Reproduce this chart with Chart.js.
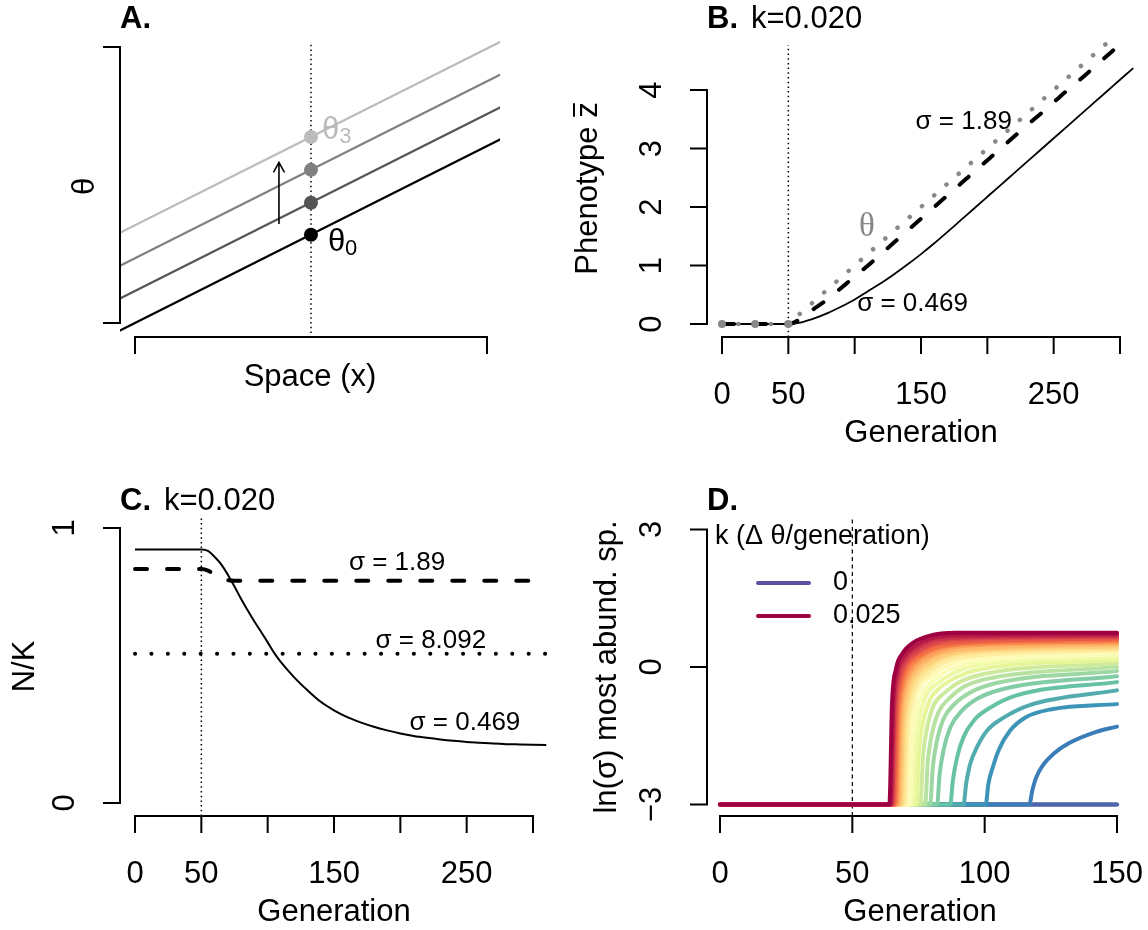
<!DOCTYPE html>
<html>
<head>
<meta charset="utf-8">
<script src="https://cdn.jsdelivr.net/npm/chart.js@4.4.1/dist/chart.umd.min.js"></script>
<style>
  html, body { margin: 0; padding: 0; background: #fff; }
  #wrap { position: relative; width: 1148px; height: 930px; overflow: hidden; }
  #wrap canvas { position: absolute; left: 0; top: 0; }
</style>
</head>
<body>
<div id="wrap">
  <canvas id="panelA" width="1148" height="930"></canvas>
  <canvas id="panelB" width="1148" height="930"></canvas>
  <canvas id="panelC" width="1148" height="930"></canvas>
  <canvas id="panelD" width="1148" height="930"></canvas>
</div>
<script>
// ---- panel A: optimum theta across space, shifting upward ----
const spaceX = [-1, 11];
const thetaLineStart = [-0.64, 0.52, 1.71, 2.90];   // value at x = -1
const thetaLineEnd = [7.05, 8.21, 9.40, 10.59];     // value at x = 11
const thetaDotX = 5;
const thetaDotY = [3.2, 4.36, 5.55, 6.74];
const thetaColors = ['#000000', '#555555', '#808080', '#bbbbbb'];

// ---- panel B: mean phenotype over generations ----
const genB = [0, 10, 20, 30, 40, 50, 60, 70, 80, 90, 100, 110, 120, 130, 140, 150, 160,
  170, 180, 190, 200, 210, 220, 230, 240, 250, 260, 270, 280, 290, 300, 310];
const thetaB = [0, 0, 0, 0, 0, 0, 0.2, 0.4, 0.6, 0.8, 1.0, 1.2, 1.4, 1.6, 1.8, 2.0, 2.2,
  2.4, 2.6, 2.8, 3.0, 3.2, 3.4, 3.6, 3.8, 4.0, 4.2, 4.4, 4.6, 4.8, 5.0, 5.2];
const zWideB = [0, 0, 0, 0, 0, 0, 0.1, 0.27, 0.43, 0.62, 0.81, 1.0, 1.2, 1.4, 1.6, 1.8, 2.0,
  2.2, 2.4, 2.6, 2.8, 3.0, 3.2, 3.4, 3.59, 3.79, 3.99, 4.18, 4.38, 4.58, 4.78, 4.97];
const zNarrowB = [0, 0, 0, 0, 0, 0, 0.03, 0.1, 0.19, 0.3, 0.42, 0.56, 0.70, 0.855, 1.02, 1.195, 1.38,
  1.575, 1.775, 1.975, 2.175, 2.375, 2.575, 2.775, 2.975, 3.175, 3.375, 3.575, 3.775, 3.975, 4.175, 4.375];
const thetaMarkGen = [0, 25, 50];
const thetaMarkVal = [0, 0, 0];

// ---- panel C: population size N/K ----
const genC = [0, 50, 55, 60, 65, 70, 75, 80, 85, 90, 95, 100, 105, 110, 120, 130, 140, 150,
  160, 170, 180, 190, 200, 210, 220, 230, 240, 250, 260, 270, 280, 290, 300, 310];
const nNarrowC = [0.922, 0.922, 0.917, 0.895, 0.868, 0.83, 0.787, 0.742, 0.70, 0.66, 0.623, 0.584,
  0.545, 0.512, 0.457, 0.41, 0.368, 0.337, 0.312, 0.293, 0.277, 0.264, 0.253, 0.244, 0.237, 0.231,
  0.226, 0.222, 0.219, 0.216, 0.214, 0.213, 0.212, 0.211];
const genWideC = [0, 50, 55, 60, 65, 70, 75, 310];
const nWideC = [0.851, 0.851, 0.845, 0.83, 0.815, 0.81, 0.808, 0.808];
const genFlatC = [0, 310];
const nFlatC = [0.543, 0.543];

// ---- panel D: ln(sigma) of most abundant species, one line per k (0 .. 0.025) ----
const legendK = ['0', '0.025'];
const dOnset = [null, null, 116.9, 100.4, 92.0, 87.0, 82.0, 79.4, 77.5, 75.7, 74.2, 72.9, 71.7,
  70.6, 69.7, 68.9, 68.2, 67.5, 66.9, 66.4, 65.9, 65.5, 65.1, 64.8, 64.4, 64.0];
const dOffset = [1, 2.5, 5, 9, 15, 25];   // generations after onset
const dLevel = [                          // values at those offsets, then at generation 150
  null,
  null,
  [-2.72, -2.42, -2.15, -1.90, -1.66, -1.42, -1.30],
  [-2.55, -2.22, -1.80, -1.40, -1.10, -0.92, -0.81],
  [-2.55, -2.12, -1.76, -1.38, -1.11, -0.83, -0.51],
  [-2.47, -1.99, -1.53, -1.16, -0.89, -0.62, -0.33],
  [-2.33, -1.80, -1.32, -0.98, -0.70, -0.48, -0.20],
  [-2.19, -1.63, -1.14, -0.82, -0.56, -0.35, -0.09],
  [-2.07, -1.47, -0.99, -0.69, -0.42, -0.24, 0.00],
  [-1.95, -1.34, -0.84, -0.57, -0.32, -0.14, 0.08],
  [-1.83, -1.20, -0.73, -0.45, -0.23, -0.04, 0.15],
  [-1.75, -1.11, -0.62, -0.37, -0.14, 0.05, 0.21],
  [-1.66, -1.01, -0.55, -0.29, -0.06, 0.11, 0.27],
  [-1.57, -0.91, -0.44, -0.21, 0.02, 0.19, 0.32],
  [-1.48, -0.81, -0.37, -0.14, 0.10, 0.24, 0.37],
  [-1.40, -0.72, -0.31, -0.07, 0.17, 0.31, 0.41],
  [-1.34, -0.65, -0.24, 0.00, 0.21, 0.35, 0.45],
  [-1.26, -0.56, -0.17, 0.07, 0.28, 0.39, 0.49],
  [-1.20, -0.49, -0.11, 0.14, 0.32, 0.46, 0.53],
  [-1.15, -0.44, -0.05, 0.20, 0.38, 0.49, 0.56],
  [-1.10, -0.38, 0.02, 0.23, 0.41, 0.52, 0.59],
  [-1.05, -0.32, 0.08, 0.29, 0.48, 0.55, 0.62],
  [-0.99, -0.26, 0.10, 0.32, 0.50, 0.61, 0.65],
  [-0.94, -0.20, 0.16, 0.39, 0.57, 0.64, 0.68],
  [-0.86, -0.12, 0.22, 0.45, 0.62, 0.69, 0.71],
  [-0.79, -0.04, 0.30, 0.53, 0.68, 0.745, 0.75]
];
const spectralRev = ['#5E4FA2', '#3288BD', '#66C2A5', '#ABDDA4', '#E6F598', '#FFFFBF',
  '#FEE08B', '#FDAE61', '#F46D43', '#D53E4F', '#9E0142'];

const SANS = '"Liberation Sans", Arial, Helvetica, sans-serif';
const SERIF = '"Liberation Serif", "DejaVu Serif", serif';
const TICK = 17;
const W = 1148, H = 930;

// draw a row of text pieces (for greek letters, subscripts, bold labels)
function txt(ctx, parts, x, y, opts) {
  opts = opts || {};
  const align = opts.align || 'center';
  ctx.save();
  ctx.translate(x, y);
  if (opts.rot) ctx.rotate(opts.rot);
  ctx.textBaseline = 'middle';
  ctx.textAlign = 'left';
  const ps = parts.map(p => (typeof p === 'string' ? { t: p } : Object.assign({}, p)));
  let w = 0;
  ps.forEach(p => {
    p.f = (p.bold ? 'bold ' : '') + (p.size || opts.size || 31) + 'px ' + (p.family || SANS);
    ctx.font = p.f;
    p.w = ctx.measureText(p.t).width;
    w += p.w;
  });
  let cx = align === 'center' ? -w / 2 : (align === 'right' ? -w : 0);
  ps.forEach(p => {
    ctx.font = p.f;
    ctx.fillStyle = p.color || opts.color || '#000';
    ctx.fillText(p.t, cx, p.dy || 0);
    p.x0 = cx;
    cx += p.w;
  });
  ctx.restore();
  return ps;
}

function hexRgb(h) {
  return [parseInt(h.slice(1, 3), 16), parseInt(h.slice(3, 5), 16), parseInt(h.slice(5, 7), 16)];
}
function ramp(stops, t) {
  const n = stops.length - 1;
  const s = t * n;
  const j = Math.min(Math.floor(s), n - 1);
  const f = s - j;
  const a = hexRgb(stops[j]), b = hexRgb(stops[j + 1]);
  const c = a.map((v, i) => Math.round(v + (b[i] - v) * f));
  return 'rgb(' + c.join(',') + ')';
}

// R-style axes, labels and notes
function rPanel(cfg) {
  return {
    id: 'rPanel',
    afterDraw(chart) {
      const ctx = chart.ctx, a = chart.chartArea;
      const sx = chart.scales.x, sy = chart.scales.y;
      ctx.save();
      ctx.strokeStyle = '#000';
      ctx.lineWidth = 2;
      ctx.setLineDash([]);
      ctx.beginPath();
      const xt = cfg.xTicks, yt = cfg.yTicks;
      ctx.moveTo(sx.getPixelForValue(xt[0]) - 1, a.bottom);
      ctx.lineTo(sx.getPixelForValue(xt[xt.length - 1]) + 1, a.bottom);
      xt.forEach(v => {
        const p = sx.getPixelForValue(v);
        ctx.moveTo(p, a.bottom); ctx.lineTo(p, a.bottom + TICK);
      });
      ctx.moveTo(a.left, sy.getPixelForValue(yt[0]) + 1);
      ctx.lineTo(a.left, sy.getPixelForValue(yt[yt.length - 1]) - 1);
      yt.forEach(v => {
        const p = sy.getPixelForValue(v);
        ctx.moveTo(a.left, p); ctx.lineTo(a.left - TICK, p);
      });
      ctx.stroke();
      ctx.restore();

      if (cfg.xText) xt.forEach((v, i) => {
        if (cfg.xText[i]) txt(ctx, [cfg.xText[i]], sx.getPixelForValue(v), a.bottom + 58.5);
      });
      if (cfg.yText) yt.forEach((v, i) => {
        if (cfg.yText[i]) txt(ctx, [cfg.yText[i]], a.left - 55, sy.getPixelForValue(v), { rot: -Math.PI / 2 });
      });
      const cxp = (a.left + a.right) / 2, cyp = (a.top + a.bottom) / 2;
      if (cfg.xTitle) txt(ctx, [cfg.xTitle], cxp, a.bottom + (cfg.xTitleGap || 96));
      if (cfg.yTitle) txt(ctx, cfg.yTitle, a.left - cfg.yTitleGap, cyp, { rot: -Math.PI / 2 });
      if (cfg.title) {
        txt(ctx, [{ t: cfg.title, bold: true }], a.left, cfg.titleY, { align: 'left' });
        if (cfg.subtitle) txt(ctx, [cfg.subtitle], a.left + 44, cfg.titleY, { align: 'left' });
      }
      (cfg.notes || []).forEach(n => {
        txt(ctx, n.parts, sx.getPixelForValue(n.x), sy.getPixelForValue(n.y), { align: n.align || 'center', size: n.size });
      });
      if (cfg.extra) cfg.extra(chart);
    }
  };
}

function makePanel(id, area, xr, yr, datasets, cfg) {
  return new Chart(document.getElementById(id), {
    type: 'scatter',
    data: { datasets: datasets },
    options: {
      responsive: false,
      animation: false,
      events: [],
      devicePixelRatio: 1,
      layout: { padding: { left: area.l, top: area.t, right: W - area.r, bottom: H - area.b } },
      scales: {
        x: { type: 'linear', min: xr[0], max: xr[1], display: false },
        y: { type: 'linear', min: yr[0], max: yr[1], display: false }
      },
      plugins: { legend: { display: false }, tooltip: { enabled: false } },
      elements: { point: { radius: 0 }, line: { borderJoinStyle: 'round' } }
    },
    plugins: [rPanel(cfg)]
  });
}

function line(pts, color, width, dash, extra) {
  return Object.assign({
    data: pts, showLine: true, borderColor: color, borderWidth: width,
    borderDash: dash || [], pointRadius: 0, clip: 0, fill: false
  }, extra || {});
}
const zip = (xs, ys) => xs.map((x, i) => ({ x: x, y: ys[i] }));

// ---------- A ----------
const dsA = [];
dsA.push({
  data: thetaDotY.map(v => ({ x: thetaDotX, y: v })), showLine: false,
  pointRadius: 7, pointBackgroundColor: thetaColors, pointBorderWidth: 0, clip: false
});
dsA.push(line([{ x: thetaDotX, y: -0.36 }, { x: thetaDotX, y: 10.1 }], '#000', 1.5, [1.5, 3.2]));
for (let i = thetaColors.length - 1; i >= 0; i--) {
  dsA.push(line([{ x: spaceX[0], y: thetaLineStart[i] }, { x: spaceX[1], y: thetaLineEnd[i] }],
    thetaColors[i], 2.2));
}
makePanel('panelA', { l: 120, r: 500, t: 36, b: 337 }, [-0.426, 10.37], [-0.507, 10.4], dsA, {
  xTicks: [0, 10], yTicks: [0, 10],
  xTitle: 'Space (x)', xTitleGap: 40,
  yTitle: ['θ'], yTitleGap: 35,
  title: 'A.', titleY: 19,
  extra(chart) {
    const ctx = chart.ctx, sx = chart.scales.x, sy = chart.scales.y;
    const ax = sx.getPixelForValue(4.09), y0 = sy.getPixelForValue(3.59), y1 = sy.getPixelForValue(5.82);
    ctx.save();
    ctx.strokeStyle = '#000'; ctx.lineWidth = 1.6;
    ctx.beginPath();
    ctx.moveTo(ax, y0); ctx.lineTo(ax, y1);
    ctx.moveTo(ax - 5.5, y1 + 10); ctx.lineTo(ax, y1); ctx.lineTo(ax + 5.5, y1 + 10);
    ctx.stroke();
    ctx.restore();
    txt(ctx, [{ t: 'θ', color: '#bbbbbb' }, { t: '3', size: 22, dy: 7, color: '#bbbbbb' }],
      sx.getPixelForValue(5.31), sy.getPixelForValue(6.99), { align: 'left' });
    txt(ctx, [{ t: 'θ' }, { t: '0', size: 22, dy: 7 }],
      sx.getPixelForValue(5.48), sy.getPixelForValue(2.93), { align: 'left' });
  }
});

// ---------- B ----------
const dsB = [
  { data: zip(thetaMarkGen, thetaMarkVal), showLine: false, pointRadius: 4,
    pointBackgroundColor: '#888888', pointBorderWidth: 0, clip: false },
  line(zip(genB, thetaB), '#888888', 4.5, [0.1, 16.2], { borderCapStyle: 'round' }),
  line(zip(genB, zWideB), '#000', 4, [12, 20], { borderCapStyle: 'round', cubicInterpolationMode: 'monotone' }),
  line(zip(genB, zNarrowB), '#000', 1.8, [], { cubicInterpolationMode: 'monotone' }),
  line([{ x: 50, y: -0.222 }, { x: 50, y: 4.77 }], '#000', 1.5, [1.5, 3.2])
];
makePanel('panelB', { l: 707, r: 1135, t: 40, b: 337 }, [-11.31, 311.3], [-0.222, 4.855], dsB, {
  xTicks: [0, 50, 100, 150, 200, 250, 300],
  xText: ['0', '50', '', '150', '', '250', ''],
  yTicks: [0, 1, 2, 3, 4], yText: ['0', '1', '2', '3', '4'],
  xTitle: 'Generation',
  title: 'B.', subtitle: 'k=0.020', titleY: 19,
  notes: [
    { x: 182.2, y: 3.45, parts: ['σ = 1.89'], size: 26 },
    { x: 109.3, y: 1.66, parts: [{ t: 'θ', color: '#888888', family: SERIF, size: 33 }] },
    { x: 143.6, y: 0.34, parts: ['σ = 0.469'], size: 26 }
  ],
  extra(chart) {
    const ctx = chart.ctx, a = chart.chartArea;
    const cy = (a.top + a.bottom) / 2, cx = a.left - 119;
    const ps = txt(ctx, ['Phenotype ', 'z'], cx, cy, { rot: -Math.PI / 2 });
    const z = ps[1];
    ctx.save();
    ctx.translate(cx, cy);
    ctx.rotate(-Math.PI / 2);
    ctx.strokeStyle = '#000'; ctx.lineWidth = 2;
    ctx.beginPath();
    ctx.moveTo(z.x0 + 1, -14); ctx.lineTo(z.x0 + z.w - 1, -14);
    ctx.stroke();
    ctx.restore();
  }
});

// ---------- C ----------
const dsC = [
  line(zip(genC, nNarrowC), '#000', 2, [], { cubicInterpolationMode: 'monotone' }),
  line(zip(genWideC, nWideC), '#000', 4, [12, 20], { borderCapStyle: 'round', cubicInterpolationMode: 'monotone' }),
  line(zip(genFlatC, nFlatC), '#000', 4, [0.1, 16.3], { borderCapStyle: 'round' }),
  line([{ x: 50, y: -0.0473 }, { x: 50, y: 1.04 }], '#000', 1.5, [1.5, 3.2])
];
makePanel('panelC', { l: 120, r: 548, t: 517, b: 816 }, [-11.31, 311.3], [-0.0473, 1.04], dsC, {
  xTicks: [0, 50, 100, 150, 200, 250, 300],
  xText: ['0', '50', '', '150', '', '250', ''],
  yTicks: [0, 1], yText: ['0', '1'],
  xTitle: 'Generation',
  yTitle: ['N/K'], yTitleGap: 95,
  title: 'C.', subtitle: 'k=0.020', titleY: 501,
  notes: [
    { x: 197.5, y: 0.873, parts: ['σ = 1.89'], size: 26 },
    { x: 223, y: 0.589, parts: ['σ = 8.092'], size: 26 },
    { x: 248.7, y: 0.291, parts: ['σ = 0.469'], size: 26 }
  ]
});

// ---------- D ----------
const dColors = [];
const dsD = [];
for (let i = 0; i < dOnset.length; i++) {
  const col = ramp(spectralRev, i / (dOnset.length - 1));
  dColors.push(col);
  const pts = [{ x: 0, y: -3 }];
  if (dOnset[i] === null) {
    pts.push({ x: 150, y: -3 });
  } else {
    pts.push({ x: dOnset[i], y: -3 });
    dOffset.forEach((o, j) => pts.push({ x: dOnset[i] + o, y: dLevel[i][j] }));
    pts.push({ x: 150, y: dLevel[i][dOffset.length] });
  }
  dsD.push(line(pts, col, 4, [], {
    order: dOnset.length - 1 - i, borderCapStyle: 'round', cubicInterpolationMode: 'monotone'
  }));
}
dsD.push(line([{ x: 50, y: -3.25 }, { x: 50, y: 3.25 }], '#000', 1.2, [4, 3.5], { order: 100 }));
makePanel('panelD', { l: 707, r: 1133, t: 518, b: 816 }, [-4.91, 156.04], [-3.251, 3.251], dsD, {
  xTicks: [0, 50, 100, 150], xText: ['0', '50', '100', '150'],
  yTicks: [-3, 0, 3], yText: ['\u22123', '0', '3'],
  xTitle: 'Generation',
  yTitle: ['ln(σ) most abund. sp.'], yTitleGap: 100,
  title: 'D.', titleY: 501,
  extra(chart) {
    const ctx = chart.ctx, a = chart.chartArea;
    txt(ctx, ['k (Δ θ/generation)'], a.left + 8, a.top + 19, { align: 'left', size: 27 });
    const rows = [{ col: dColors[0], lab: legendK[0], y: a.top + 65 },
                  { col: dColors[dColors.length - 1], lab: legendK[1], y: a.top + 98 }];
    rows.forEach(r => {
      ctx.save();
      ctx.strokeStyle = r.col; ctx.lineWidth = 4; ctx.lineCap = 'round';
      ctx.beginPath(); ctx.moveTo(a.left + 51, r.y); ctx.lineTo(a.left + 102, r.y); ctx.stroke();
      ctx.restore();
      txt(ctx, [r.lab], a.left + 126, r.y, { align: 'left', size: 27 });
    });
  }
});
</script>
</body>
</html>
